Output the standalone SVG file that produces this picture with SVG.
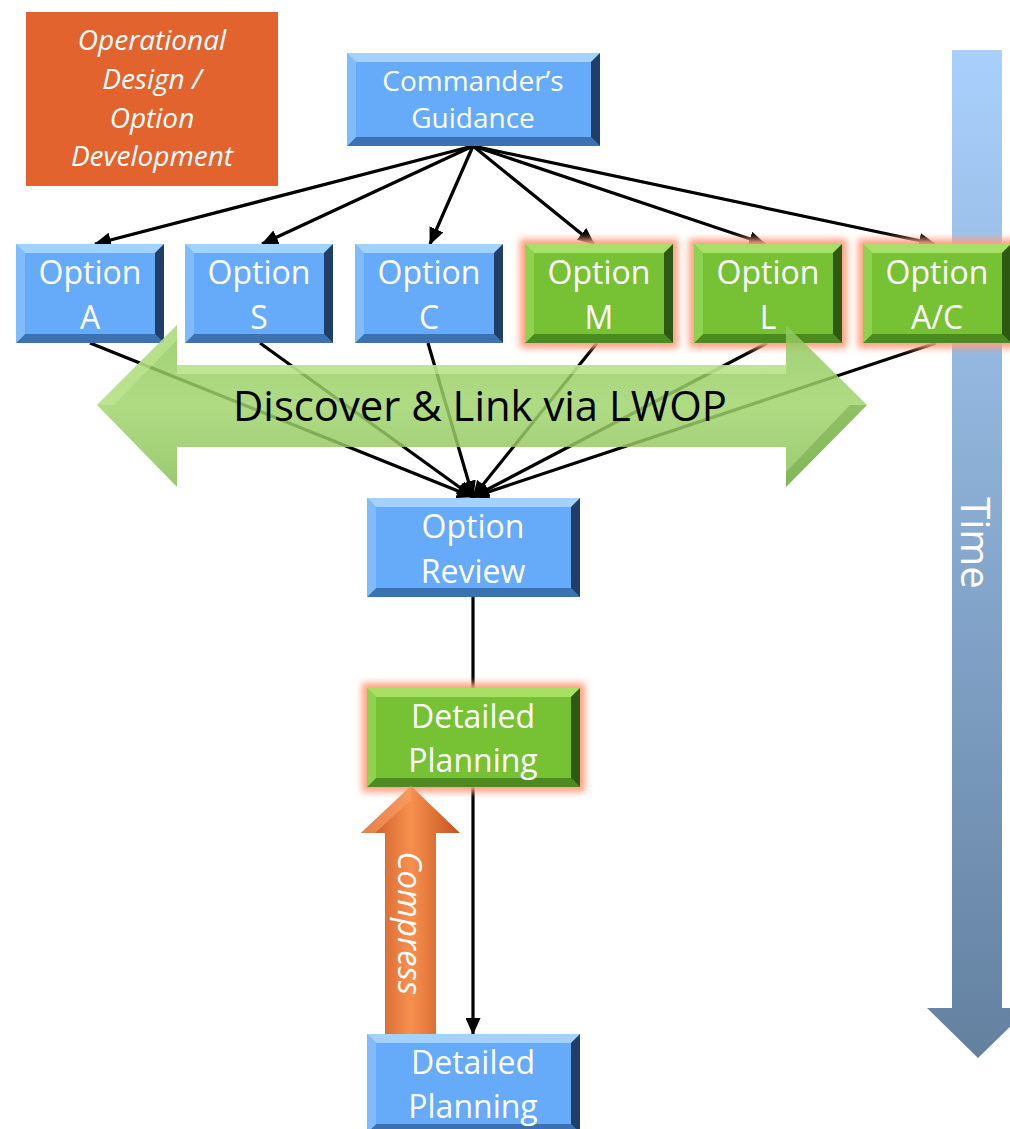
<svg xmlns="http://www.w3.org/2000/svg" xmlns:xlink="http://www.w3.org/1999/xlink" width="1010" height="1129" viewBox="0 0 1010 1129">
<style>
.lbl{font-family:"Open Sans","Liberation Sans",sans-serif;fill:#ffffff;text-anchor:middle}
.opt{font-size:32px}
.cmd{font-size:28px}
.ital{font-style:italic}
.conn{stroke:#000;stroke-width:3.2;fill:none}
.bB{fill:#66aafa}.bT{fill:#a2d2ff}.bL{fill:#80bcfc}.bD{fill:#3d72b2}.bR{fill:#1f3f68}
.gB{fill:#77c135}.gT{fill:#a8e065}.gL{fill:#8fd24f}.gD{fill:#4e8a22}.gR{fill:#2e5912}
.glow{fill:#ff9f80;filter:url(#blur)}
</style>
<defs>
<filter id="blur" x="-20%" y="-30%" width="140%" height="160%"><feGaussianBlur stdDeviation="3.5"/></filter>
<marker id="ah" markerUnits="userSpaceOnUse" markerWidth="17" markerHeight="15" viewBox="0 0 17 15" refX="16" refY="7.5" orient="auto"><path d="M0,0 L17,7.5 L0,15 z" fill="#000"/></marker>
<linearGradient id="timeG" x1="0" y1="0" x2="0" y2="1"><stop offset="0" stop-color="#a9d0fc"/><stop offset="1" stop-color="#63809f"/></linearGradient>
<linearGradient id="discG" x1="0" y1="0" x2="0" y2="1"><stop offset="0" stop-color="#8fc75c"/><stop offset="0.5" stop-color="#a0d46c"/><stop offset="1" stop-color="#87c055"/></linearGradient>
<linearGradient id="compG" x1="0" y1="0" x2="1" y2="0"><stop offset="0" stop-color="#c2501c"/><stop offset="0.5" stop-color="#f7904f"/><stop offset="1" stop-color="#c4521d"/></linearGradient>
<g id="blue148"><rect class="bB" x="0" y="0" width="148" height="99"/><polygon class="bT" points="0,0 148,0 139,9 9,9"/><polygon class="bD" points="0,99 148,99 139,90 9,90"/><polygon class="bL" points="0,0 9,9 9,90 0,99"/><polygon class="bR" points="148,0 139,9 139,90 148,99"/></g>
<g id="green148"><rect class="glow" x="-5" y="-5" width="158" height="109"/><rect class="gB" x="0" y="0" width="148" height="99"/><polygon class="gT" points="0,0 148,0 139,9 9,9"/><polygon class="gD" points="0,99 148,99 139,90 9,90"/><polygon class="gL" points="0,0 9,9 9,90 0,99"/><polygon class="gR" points="148,0 139,9 139,90 148,99"/></g>
<g id="blue213"><rect class="bB" x="0" y="0" width="213" height="99"/><polygon class="bT" points="0,0 213,0 204,9 9,9"/><polygon class="bD" points="0,99 213,99 204,90 9,90"/><polygon class="bL" points="0,0 9,9 9,90 0,99"/><polygon class="bR" points="213,0 204,9 204,90 213,99"/></g>
<g id="green213"><rect class="glow" x="-5" y="-5" width="223" height="109"/><rect class="gB" x="0" y="0" width="213" height="99"/><polygon class="gT" points="0,0 213,0 204,9 9,9"/><polygon class="gD" points="0,99 213,99 204,90 9,90"/><polygon class="gL" points="0,0 9,9 9,90 0,99"/><polygon class="gR" points="213,0 204,9 204,90 213,99"/></g>
<g id="blue253"><rect class="bB" x="0" y="0" width="253" height="93"/><polygon class="bT" points="0,0 253,0 244,9 9,9"/><polygon class="bD" points="0,93 253,93 244,84 9,84"/><polygon class="bL" points="0,0 9,9 9,84 0,93"/><polygon class="bR" points="253,0 244,9 244,84 253,93"/></g>
</defs>
<rect x="0" y="0" width="1010" height="1129" fill="#ffffff"/>

<g id="n-time">
<polygon points="952,50 1002,50 1002,1008 1029,1008 978,1058 927,1008 952,1008" fill="url(#timeG)"/>
<text class="lbl" font-size="40" transform="translate(961,543) rotate(90)" x="0" y="0">Time</text>
</g>

<g id="connectors">
<line class="conn" x1="473" y1="146" x2="95" y2="244" marker-end="url(#ah)"/>
<line class="conn" x1="473" y1="146" x2="262" y2="244" marker-end="url(#ah)"/>
<line class="conn" x1="473" y1="146" x2="430" y2="244" marker-end="url(#ah)"/>
<line class="conn" x1="473" y1="146" x2="594" y2="244" marker-end="url(#ah)"/>
<line class="conn" x1="473" y1="146" x2="765" y2="244" marker-end="url(#ah)"/>
<line class="conn" x1="473" y1="146" x2="935" y2="244" marker-end="url(#ah)"/>
<line class="conn" x1="90" y1="343" x2="473" y2="497" marker-end="url(#ah)"/>
<line class="conn" x1="260" y1="343" x2="473" y2="497" marker-end="url(#ah)"/>
<line class="conn" x1="428" y1="343" x2="473" y2="497" marker-end="url(#ah)"/>
<line class="conn" x1="597" y1="343" x2="473" y2="497" marker-end="url(#ah)"/>
<line class="conn" x1="767" y1="343" x2="473" y2="497" marker-end="url(#ah)"/>
<line class="conn" x1="936" y1="343" x2="473" y2="497" marker-end="url(#ah)"/>
<line class="conn" x1="473" y1="597" x2="473" y2="1034" marker-end="url(#ah)"/>
</g>

<g id="n-opdesign">
<rect x="26" y="12" width="252" height="174" fill="#e3632f"/>
<text class="lbl cmd ital" x="152" y="50">Operational</text>
<text class="lbl cmd ital" x="152" y="89">Design /</text>
<text class="lbl cmd ital" x="152" y="128">Option</text>
<text class="lbl cmd ital" x="152" y="166">Development</text>
</g>

<g id="n-cmd">
<use xlink:href="#blue253" x="347" y="53"/>
<text class="lbl cmd" x="473" y="91">Commander’s</text>
<text class="lbl cmd" x="473" y="128">Guidance</text>
</g>

<g id="n-optA"><use xlink:href="#blue148" x="16" y="244"/><text class="lbl opt" x="90" y="284">Option</text><text class="lbl opt" x="90" y="329">A</text></g>
<g id="n-optS"><use xlink:href="#blue148" x="185" y="244"/><text class="lbl opt" x="259" y="284">Option</text><text class="lbl opt" x="259" y="329">S</text></g>
<g id="n-optC"><use xlink:href="#blue148" x="355" y="244"/><text class="lbl opt" x="429" y="284">Option</text><text class="lbl opt" x="429" y="329">C</text></g>
<g id="n-optM"><use xlink:href="#green148" x="525" y="244"/><text class="lbl opt" x="599" y="284">Option</text><text class="lbl opt" x="599" y="329">M</text></g>
<g id="n-optL"><use xlink:href="#green148" x="694" y="244"/><text class="lbl opt" x="768" y="284">Option</text><text class="lbl opt" x="768" y="329">L</text></g>
<g id="n-optAC"><use xlink:href="#green148" x="863" y="244"/><text class="lbl opt" x="937" y="284">Option</text><text class="lbl opt" x="937" y="329">A/C</text></g>

<g id="n-review"><use xlink:href="#blue213" x="367" y="498"/><text class="lbl opt" x="473" y="538">Option</text><text class="lbl opt" x="473" y="583">Review</text></g>
<g id="n-dp1"><use xlink:href="#green213" x="367" y="688"/><text class="lbl opt" x="473" y="728">Detailed</text><text class="lbl opt" x="473" y="772">Planning</text></g>
<g id="n-dp2"><use xlink:href="#blue213" x="367" y="1034"/><text class="lbl opt" x="473" y="1074">Detailed</text><text class="lbl opt" x="473" y="1118">Planning</text></g>

<g id="n-discover">
<polygon points="97,405 177,325 177,365 786,365 786,325 867,405 786,487 786,447 177,447 177,487" fill="url(#discG)" opacity="0.84"/>
<rect x="177" y="365" width="609" height="9" fill="#d2f0a8" opacity="0.55"/>
<polygon points="97,405 177,325 177,340 114,405" fill="#c9eb9c" opacity="0.5"/>
<polygon points="867,405 786,487 786,472 850,405" fill="#5f9a37" opacity="0.4"/>
<text x="480" y="421" font-family="'Open Sans','Liberation Sans',sans-serif" font-size="42" fill="#000" text-anchor="middle" textLength="494" lengthAdjust="spacingAndGlyphs">Discover &amp; Link via LWOP</text>
</g>

<g id="n-compress">
<polygon points="411,786 460,833 436,833 436,1034 385,1034 385,833 361,833" fill="url(#compG)"/>
<polygon points="411,786 411,800 375,833 361,833" fill="#f9a06a" opacity="0.6"/>
<text class="lbl ital" font-size="33" transform="translate(398,923) rotate(90)" x="0" y="0">Compress</text>
</g>
</svg>
